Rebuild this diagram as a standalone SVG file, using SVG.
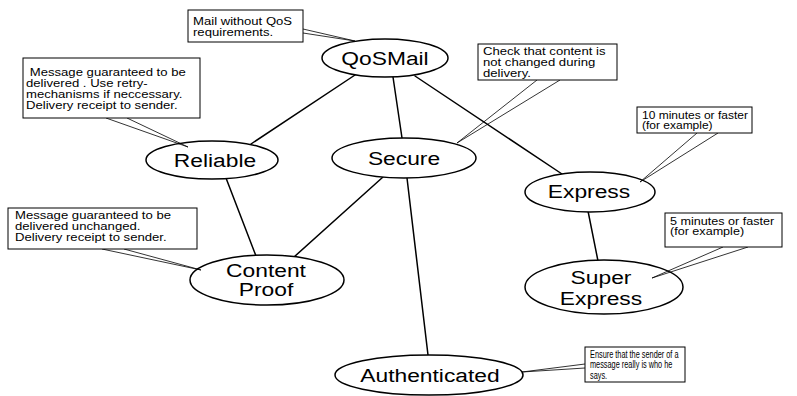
<svg xmlns="http://www.w3.org/2000/svg" width="797" height="396" viewBox="0 0 797 396">
  <style>
    .bg { fill: #ffffff; }
    .edges line { stroke: #000; stroke-width: 1.5; stroke-linecap: round; }
    .node ellipse { fill: #ffffff; stroke: #000; stroke-width: 1.5; }
    .lbl { font-family: "Liberation Sans", Arial, Helvetica, sans-serif; font-size: 19px; text-anchor: middle; fill: #000; }
    .note rect { fill: #ffffff; stroke: #000; stroke-width: 1; }
    .note polyline { fill: none; stroke: #000; stroke-width: 0.8; stroke-linejoin: miter; }
    .note text { font-family: "Liberation Sans", Arial, Helvetica, sans-serif; font-size: 10.5px; fill: #000; }
  </style>

  <rect class="bg" x="0" y="0" width="797" height="396"/>

  <!-- connectors between the service levels -->
  <g id="connectors" class="edges">
    <line x1="355" y1="75" x2="251" y2="144"/>
    <line x1="393" y1="77" x2="402" y2="138"/>
    <line x1="415" y1="76" x2="562" y2="174"/>
    <line x1="226" y1="178" x2="256" y2="256"/>
    <line x1="383" y1="177" x2="294" y2="257"/>
    <line x1="407" y1="178" x2="428" y2="355"/>
    <line x1="588" y1="211" x2="598" y2="261"/>
  </g>

  <!-- service level nodes -->
  <g id="node-qosmail" class="node">
    <ellipse cx="385" cy="58" rx="63" ry="19"/>
    <text class="lbl" transform="translate(385,65) scale(1.2,1)">QoSMail</text>
  </g>
  <g id="node-reliable" class="node">
    <ellipse cx="212" cy="160" rx="66" ry="19"/>
    <text class="lbl" transform="translate(215,167) scale(1.2,1)">Reliable</text>
  </g>
  <g id="node-secure" class="node">
    <ellipse cx="404" cy="158" rx="72" ry="20"/>
    <text class="lbl" transform="translate(404,165) scale(1.2,1)">Secure</text>
  </g>
  <g id="node-express" class="node">
    <ellipse cx="590" cy="192" rx="65" ry="20"/>
    <text class="lbl" transform="translate(589,198) scale(1.2,1)">Express</text>
  </g>
  <g id="node-content-proof" class="node">
    <ellipse cx="267" cy="280" rx="77" ry="25"/>
    <text class="lbl" transform="translate(266,277) scale(1.2,1)">Content</text>
    <text class="lbl" transform="translate(266,296) scale(1.2,1)">Proof</text>
  </g>
  <g id="node-super-express" class="node">
    <ellipse cx="604" cy="287" rx="79" ry="27"/>
    <text class="lbl" transform="translate(601,284) scale(1.2,1)">Super</text>
    <text class="lbl" transform="translate(601,305) scale(1.2,1)">Express</text>
  </g>
  <g id="node-authenticated" class="node">
    <ellipse cx="429" cy="375" rx="94" ry="20"/>
    <text class="lbl" transform="translate(430,382) scale(1.2,1)">Authenticated</text>
  </g>

  <!-- explanatory callouts -->
  <g id="note-qosmail" class="note">
    <polyline points="303,29 355,41 303,33"/>
    <rect x="188" y="10" width="115" height="32"/>
    <text transform="translate(193,25) scale(1.25,1)"><tspan x="0" y="0">Mail without QoS</tspan><tspan x="0" y="11">requirements.</tspan></text>
  </g>
  <g id="note-reliable" class="note">
    <polyline points="106,118 188,147 127,118"/>
    <rect x="23" y="58" width="177" height="60"/>
    <text transform="translate(26,76) scale(1.25,1)"><tspan x="3" y="0">Message guaranteed to be</tspan><tspan x="0" y="11">delivered . Use retry-</tspan><tspan x="0" y="22">mechanisms if neccessary.</tspan><tspan x="0" y="33">Delivery receipt to sender.</tspan></text>
  </g>
  <g id="note-secure" class="note">
    <polyline points="537,80 457,143 560,80"/>
    <rect x="478" y="44" width="139" height="36"/>
    <text transform="translate(483,55) scale(1.25,1)"><tspan x="0" y="0">Check that content is</tspan><tspan x="0" y="11">not changed during</tspan><tspan x="0" y="22">delivery.</tspan></text>
  </g>
  <g id="note-express" class="note">
    <polyline points="697,133 640,182 718,133"/>
    <rect x="637" y="107" width="115" height="26"/>
    <text transform="translate(642,119) scale(1.2,1)" style="font-size:10px"><tspan x="0" y="0">10 minutes or faster</tspan><tspan x="0" y="10">(for example)</tspan></text>
  </g>
  <g id="note-super-express" class="note">
    <polyline points="723,247 652,278 748,247"/>
    <rect x="665" y="213" width="117" height="34"/>
    <text transform="translate(670,225) scale(1.2,1)"><tspan x="0" y="0">5 minutes or faster</tspan><tspan x="0" y="10.5">(for example)</tspan></text>
  </g>
  <g id="note-content-proof" class="note">
    <polyline points="102,249 201,270 124,249"/>
    <rect x="8" y="208" width="189" height="41"/>
    <text transform="translate(15,219) scale(1.25,1)"><tspan x="0" y="0">Message guaranteed to be</tspan><tspan x="0" y="11">delivered unchanged.</tspan><tspan x="0" y="22">Delivery receipt to sender.</tspan></text>
  </g>
  <g id="note-authenticated" class="note">
    <polyline points="585,364 522,372 585,368"/>
    <rect x="585" y="347" width="100" height="35"/>
    <text transform="translate(590,358) scale(0.7,1)" style="font-size:10.5px"><tspan x="0" y="0">Ensure that the sender of a</tspan><tspan x="0" y="10.5">message really is who he</tspan><tspan x="0" y="21">says.</tspan></text>
  </g>
</svg>
